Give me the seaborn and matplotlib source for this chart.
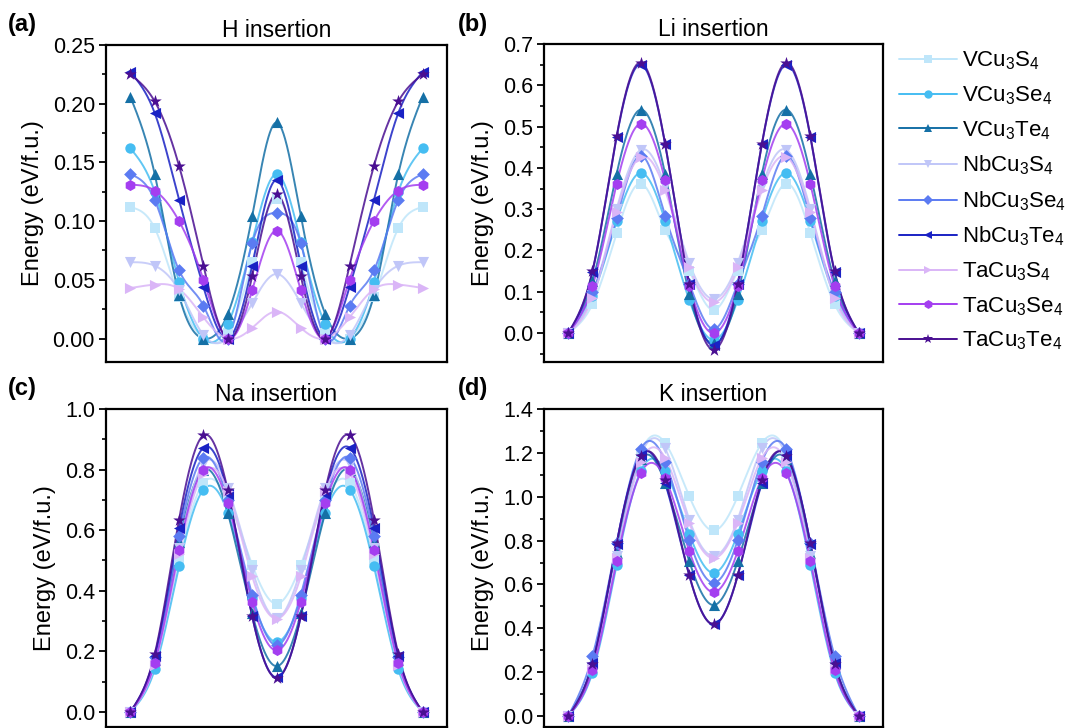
import numpy as np
import pandas as pd
import matplotlib
matplotlib.use("Agg")
import matplotlib.pyplot as plt
from matplotlib.lines import Line2D
from matplotlib.ticker import MultipleLocator, FormatStrFormatter
import seaborn as sns

# ---------------- data (first half + centre, path is mirror-symmetric) ----------------
materials = ["VCu3S4", "VCu3Se4", "VCu3Te4", "NbCu3S4", "NbCu3Se4", "NbCu3Te4",
             "TaCu3S4", "TaCu3Se4", "TaCu3Te4"]
labels = ["VCu$_3$S$_4$", "VCu$_3$Se$_4$", "VCu$_3$Te$_4$", "NbCu$_3$S$_4$",
          "NbCu$_3$Se$_4$", "NbCu$_3$Te$_4$", "TaCu$_3$S$_4$", "TaCu$_3$Se$_4$",
          "TaCu$_3$Te$_4$"]

H_half = {
    "VCu3S4":   [0.112, 0.094, 0.035, 0.000, 0.005, 0.065, 0.119],
    "VCu3Se4":  [0.162, 0.125, 0.048, 0.000, 0.012, 0.082, 0.140],
    "VCu3Te4":  [0.206, 0.140, 0.037, 0.000, 0.021, 0.104, 0.184],
    "NbCu3S4":  [0.065, 0.062, 0.041, 0.003, 0.000, 0.030, 0.055],
    "NbCu3Se4": [0.140, 0.118, 0.058, 0.028, 0.000, 0.081, 0.107],
    "NbCu3Te4": [0.227, 0.192, 0.118, 0.044, 0.000, 0.062, 0.135],
    "TaCu3S4":  [0.043, 0.046, 0.042, 0.018, 0.000, 0.009, 0.023],
    "TaCu3Se4": [0.131, 0.126, 0.100, 0.050, 0.000, 0.041, 0.092],
    "TaCu3Te4": [0.225, 0.202, 0.147, 0.062, 0.000, 0.053, 0.123],
}
Li_half = {
    "VCu3S4":   [0, 0.070, 0.242, 0.362, 0.250, 0.150, 0.056],
    "VCu3Se4":  [0, 0.090, 0.271, 0.388, 0.272, 0.080, -0.016],
    "VCu3Te4":  [0, 0.125, 0.386, 0.541, 0.386, 0.094, -0.025],
    "NbCu3S4":  [0, 0.092, 0.300, 0.444, 0.355, 0.170, 0.083],
    "NbCu3Se4": [0, 0.100, 0.279, 0.430, 0.284, 0.120, 0.010],
    "NbCu3Te4": [0, 0.148, 0.475, 0.650, 0.458, 0.120, -0.030],
    "TaCu3S4":  [0, 0.085, 0.294, 0.427, 0.346, 0.160, 0.075],
    "TaCu3Se4": [0, 0.113, 0.361, 0.507, 0.370, 0.115, 0.000],
    "TaCu3Te4": [0, 0.150, 0.477, 0.655, 0.459, 0.118, -0.040],
}
Na_half = {
    "VCu3S4":   [0, 0.150, 0.500, 0.756, 0.700, 0.486, 0.357],
    "VCu3Se4":  [0, 0.140, 0.481, 0.734, 0.657, 0.375, 0.231],
    "VCu3Te4":  [0, 0.170, 0.560, 0.800, 0.657, 0.325, 0.151],
    "NbCu3S4":  [0, 0.160, 0.540, 0.820, 0.740, 0.470, 0.310],
    "NbCu3Se4": [0, 0.180, 0.580, 0.839, 0.700, 0.387, 0.220],
    "NbCu3Te4": [0, 0.185, 0.607, 0.872, 0.720, 0.316, 0.114],
    "TaCu3S4":  [0, 0.155, 0.520, 0.787, 0.730, 0.448, 0.308],
    "TaCu3Se4": [0, 0.162, 0.536, 0.800, 0.688, 0.364, 0.203],
    "TaCu3Te4": [0, 0.191, 0.635, 0.913, 0.731, 0.317, 0.112],
}
K_half = {
    "VCu3S4":   [0, 0.220, 0.720, 1.200, 1.245, 1.002, 0.846],
    "VCu3Se4":  [0, 0.198, 0.690, 1.119, 1.119, 0.831, 0.653],
    "VCu3Te4":  [0, 0.235, 0.744, 1.170, 1.063, 0.706, 0.506],
    "NbCu3S4":  [0, 0.225, 0.730, 1.190, 1.220, 0.896, 0.730],
    "NbCu3Se4": [0, 0.273, 0.790, 1.218, 1.160, 0.802, 0.608],
    "NbCu3Te4": [0, 0.240, 0.785, 1.190, 1.063, 0.641, 0.418],
    "TaCu3S4":  [0, 0.215, 0.720, 1.160, 1.177, 0.880, 0.720],
    "TaCu3Se4": [0, 0.208, 0.706, 1.109, 1.086, 0.752, 0.565],
    "TaCu3Te4": [0, 0.239, 0.787, 1.185, 1.078, 0.641, 0.418],
}

titles = ["H insertion", "Li insertion", "Na insertion", "K insertion"]
panel_tags = ["(a)", "(b)", "(c)", "(d)"]

colors = ["#bfe6fa", "#45bdf2", "#1570a6", "#c0c6f8", "#5b7bf2", "#1a22c4",
          "#dab5f7", "#a43ef0", "#4a0f92"]
markers = ["s", "o", "^", "v", "D", "<", ">", "h", "*"]
msizes = [6.5, 7.5, 8, 8, 6.5, 8, 8, 8, 9.5]


def full_path(half):
    half = list(half)
    return np.array(half + half[-2::-1], dtype=float)


def natural_spline(x, y, xs):
    n = len(x)
    h = np.diff(x)
    A = np.zeros((n, n))
    r = np.zeros(n)
    A[0, 0] = 1.0
    A[-1, -1] = 1.0
    for i in range(1, n - 1):
        A[i, i - 1] = h[i - 1]
        A[i, i] = 2 * (h[i - 1] + h[i])
        A[i, i + 1] = h[i]
        r[i] = 3 * ((y[i + 1] - y[i]) / h[i] - (y[i] - y[i - 1]) / h[i - 1])
    c = np.linalg.solve(A, r)
    b = (y[1:] - y[:-1]) / h - h * (2 * c[:-1] + c[1:]) / 3
    d = (c[1:] - c[:-1]) / (3 * h)
    idx = np.clip(np.searchsorted(x, xs) - 1, 0, n - 2)
    dx = xs - x[idx]
    return y[idx] + b[idx] * dx + c[idx] * dx ** 2 + d[idx] * dx ** 3


# ---------------- style ----------------
sns.set_theme(style="ticks")
plt.rcParams["font.family"] = ["Liberation Sans", "DejaVu Sans"]
plt.rcParams["mathtext.fontset"] = "custom"
plt.rcParams["mathtext.rm"] = "Liberation Sans"
plt.rcParams["mathtext.default"] = "regular"
plt.rcParams["text.color"] = "black"
plt.rcParams["axes.labelcolor"] = "black"
plt.rcParams["axes.titlecolor"] = "black"

W, H = 1065, 728
fig = plt.figure(figsize=(W / 100, H / 100), dpi=100)

boxes = [(106, 45, 447, 362), (544, 44, 883, 362),
         (106, 409, 447, 727), (544, 409, 883, 727)]
tag_x = [8, 458, 8, 458]
ylims = [(-0.02, 0.25), (-0.07, 0.7), (-0.05, 1.0), (-0.05, 1.4)]
ymaj = [0.05, 0.1, 0.2, 0.2]
fmts = ["%.2f", "%.1f", "%.1f", "%.1f"]
datasets = [H_half, Li_half, Na_half, K_half]

x = np.arange(13, dtype=float)
xs = np.linspace(0, 12, 600)

for p, (l, t, r, b) in enumerate(boxes):
    ax = fig.add_axes([l / W, 1 - b / H, (r - l) / W, (b - t) / H])
    data = datasets[p]
    for i, m in enumerate(materials):
        y = full_path(data[m])
        ys = natural_spline(x, y, xs)
        sns.lineplot(x=xs, y=ys, ax=ax, color=colors[i], lw=1.4, alpha=0.85,
                     sort=False, estimator=None)
        sns.scatterplot(x=x, y=y, ax=ax, color=colors[i], marker=markers[i],
                        s=msizes[i] ** 2, linewidth=0, zorder=3)
    ax.set_xlim(-1, 13)
    ax.set_ylim(*ylims[p])
    ax.set_xticks([])
    ax.yaxis.set_major_locator(MultipleLocator(ymaj[p]))
    ax.yaxis.set_minor_locator(MultipleLocator(ymaj[p] / 2))
    ax.yaxis.set_major_formatter(FormatStrFormatter(fmts[p]))
    ax.tick_params(axis="y", which="major", direction="out", length=5, width=1.3,
                   labelsize=15.5, colors="black", pad=3)
    ax.tick_params(axis="y", which="minor", direction="out", length=3, width=1.2,
                   colors="black")
    for s in ax.spines.values():
        s.set_linewidth(1.6)
        s.set_color("black")
        s.set_visible(True)
    ax.set_xlabel("")
    ax.set_ylabel("Energy (eV/f.u.)", fontsize=17, labelpad=6)
    ax.set_title(titles[p], fontsize=16.5, pad=6)
    fig.text(tag_x[p] / W, 1 - (t - 20) / H, panel_tags[p], fontsize=17,
             fontweight="bold", ha="left", va="center")

handles = [Line2D([0], [0], color=colors[i], marker=markers[i], lw=1.4,
                  markersize=msizes[i] * 0.8, markeredgewidth=0)
           for i in range(len(materials))]
fig.legend(handles, labels, loc="upper left",
           bbox_to_anchor=(890 / W, 1 - 41 / H), frameon=False,
           fontsize=16, handlelength=2.6, handletextpad=0.25,
           labelspacing=0.54, borderaxespad=0)

fig.savefig("out.png", dpi=100)
